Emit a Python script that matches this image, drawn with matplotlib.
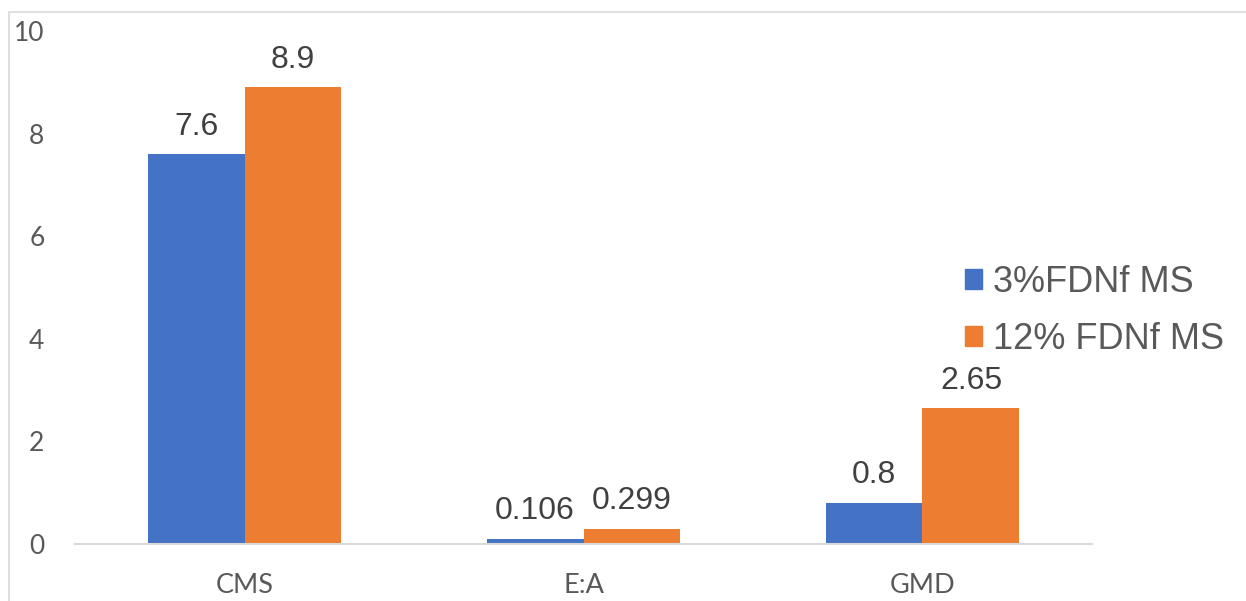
import matplotlib as mpl
import matplotlib.pyplot as plt
import numpy as np
from matplotlib.patches import Rectangle, Patch

mpl.rcParams['font.family'] = 'Liberation Sans'

categories = ['CMS', 'E:A', 'GMD']
series_names = ['3%FDNf MS', '12% FDNf MS']
low_dose = [7.6, 0.106, 0.8]
high_dose = [8.9, 0.299, 2.65]
label_low = ['7.6', '0.106', '0.8']
label_high = ['8.9', '0.299', '2.65']
yticks = [0, 2, 4, 6, 8, 10]

blue = '#4472C4'
orange = '#ED7D31'
grid_grey = '#D9D9D9'

fig = plt.figure(figsize=(12.46, 6.01), dpi=100)
ax = fig.add_axes([75 / 1246, 1 - 544 / 601, 1017 / 1246, 513 / 601])

# chart frame, partly clipped at right and bottom
fig.patches.append(Rectangle((9 / 1246, -0.5), 2.0, 1.5 - 12 / 601,
                             transform=fig.transFigure, fill=False,
                             edgecolor=grid_grey, linewidth=1.2, zorder=0))

x = np.arange(len(categories))
w = 0.286
b1 = ax.bar(x - w / 2, low_dose, w, color=blue, zorder=2)
b2 = ax.bar(x + w / 2, high_dose, w, color=orange, zorder=2)

for bars, labels in ((b1, label_low), (b2, label_high)):
    for rect, txt in zip(bars, labels):
        ax.annotate(txt, (rect.get_x() + rect.get_width() / 2, rect.get_height()),
                    xytext=(0, 9), textcoords='offset points',
                    ha='center', va='bottom', fontsize=23, color='#404040')

ax.set_xlim(-0.5, 2.5)
ax.set_ylim(0, 10)
ax.set_xticks(x)
ax.set_xticklabels(categories, fontfamily='Lato', fontsize=19.5, color='#595959')
ax.set_yticks(yticks)
ax.set_yticklabels([str(t) for t in yticks], fontfamily='Lato', fontsize=19, color='#595959')
ax.tick_params(axis='both', length=0)
ax.tick_params(axis='y', pad=22)
ax.tick_params(axis='x', pad=21)

for s in ('top', 'right', 'left'):
    ax.spines[s].set_visible(False)
ax.spines['bottom'].set_color(grid_grey)
ax.spines['bottom'].set_linewidth(1.5)

handles = [Patch(color=blue), Patch(color=orange)]
fig.legend(handles, series_names, loc='center left',
           bbox_to_anchor=(932 / 1246, 1 - 311 / 601), frameon=False,
           fontsize=26, labelcolor='#595959', handlelength=0.48, handleheight=0.48,
           handletextpad=0.3, labelspacing=0.6)

plt.savefig('out.png', dpi=100)
